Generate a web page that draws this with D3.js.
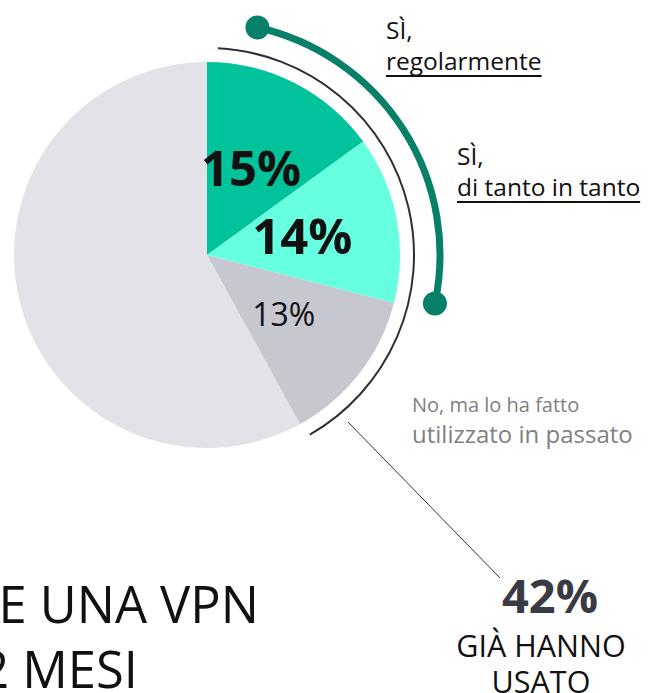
<!DOCTYPE html>
<html>
<head>
<meta charset="utf-8">
<script src="https://cdn.jsdelivr.net/npm/d3@7"></script>
<style>
  body { margin: 0; background: #fff; }
  svg { display: block; font-family: "Open Sans", "Noto Sans", sans-serif; }
</style>
</head>
<body>
<svg id="chart" width="649" height="693"></svg>
<script>
// data
var categories = ["Sì, regolarmente", "Sì, di tanto in tanto", "No, ma lo ha fatto in passato", "Altro"];
var values = [15, 14, 13, 58];
var valueLabels = ["15%", "14%", "13%", ""];
var colors = ["#00c39c", "#66ffdf", "#c7c7cf", "#e2e2e8"];
var totalUsed = "42%";

var svg = d3.select("#chart"),
    cx = 207,
    cy = 255,
    radius = 193;

var g = svg.append("g")
        .attr("transform", "translate(" + cx + "," + cy + ")");

var deg = Math.PI / 180;

var pie = d3.pie().sort(null).value(function(d) { return d; });
var arcs = pie(values);

var arc = d3.arc().innerRadius(0).outerRadius(radius);
var labelArc = d3.arc().innerRadius(97).outerRadius(97);

g.selectAll(".slice")
 .data(arcs)
 .enter().append("path")
 .attr("class", "slice")
 .attr("d", arc)
 .attr("fill", function(d, i) { return colors[i]; });

g.selectAll(".val")
 .data(arcs)
 .enter().append("text")
 .attr("class", "val")
 .attr("transform", function(d) { return "translate(" + labelArc.centroid(d) + ")"; })
 .attr("text-anchor", "middle")
 .attr("dy", "0.36em")
 .attr("font-size", function(d, i) { return i < 2 ? "49px" : "32px"; })
 .attr("font-weight", function(d, i) { return i < 2 ? "bold" : "normal"; })
 .attr("fill", "#111")
 .text(function(d, i) { return valueLabels[i]; });

// thin outer arc around the used share
var usedEnd = arcs[2].endAngle;
g.append("path")
 .attr("d", d3.arc().innerRadius(207).outerRadius(207)({ startAngle: 3 * deg, endAngle: usedEnd - 1 * deg }))
 .attr("fill", "none")
 .attr("stroke", "#2e2e38")
 .attr("stroke-width", 2);

// teal arc for the "Sì" answers
var tealR = 233,
    tealStart = 12.5 * deg,
    tealEnd = 102 * deg;
g.append("path")
 .attr("d", d3.arc().innerRadius(tealR).outerRadius(tealR)({ startAngle: tealStart, endAngle: tealEnd }))
 .attr("fill", "none")
 .attr("stroke", "#077f69")
 .attr("stroke-width", 7);

[tealStart, tealEnd].forEach(function(a) {
    g.append("circle")
     .attr("cx", tealR * Math.sin(a))
     .attr("cy", -tealR * Math.cos(a))
     .attr("r", 12)
     .attr("fill", "#077f69");
});

// category labels
function answerLabel(x, y, first, second) {
    var t = svg.append("g").attr("transform", "translate(" + x + "," + y + ")");
    t.append("text").attr("font-size", "24.5px").attr("fill", "#111").text(first);
    var s = t.append("text").attr("y", 31).attr("font-size", "24.5px").attr("fill", "#111").text(second);
    var w = s.node().getComputedTextLength();
    t.append("line")
     .attr("x1", 0).attr("x2", w)
     .attr("y1", 37).attr("y2", 37)
     .attr("stroke", "#111").attr("stroke-width", 2);
}
answerLabel(386, 39, "SÌ,", "regolarmente");
answerLabel(457, 165, "SÌ,", "di tanto in tanto");

svg.append("text")
   .attr("x", 412).attr("y", 412)
   .attr("font-size", "20px").attr("fill", "#808080")
   .text("No, ma lo ha fatto");
svg.append("text")
   .attr("x", 412).attr("y", 443)
   .attr("font-size", "24px").attr("fill", "#808080")
   .text("utilizzato in passato");

// leader line to the total
svg.append("line")
   .attr("x1", 348).attr("y1", 422)
   .attr("x2", 500).attr("y2", 578)
   .attr("stroke", "#333").attr("stroke-width", 1);

svg.append("text")
   .attr("x", 550).attr("y", 613)
   .attr("text-anchor", "middle")
   .attr("font-size", "47px").attr("font-weight", "bold")
   .attr("fill", "#3a3a44")
   .text(totalUsed);

svg.append("text")
   .attr("x", 541).attr("y", 657)
   .attr("text-anchor", "middle")
   .attr("font-size", "30.5px").attr("fill", "#111")
   .text("GIÀ HANNO");
svg.append("text")
   .attr("x", 541).attr("y", 693)
   .attr("text-anchor", "middle")
   .attr("font-size", "30.5px").attr("fill", "#111")
   .text("USATO");

// title (cut by the left edge)
svg.append("text")
   .attr("transform", "translate(259,623) scale(0.975,1)")
   .attr("text-anchor", "end")
   .attr("font-size", "52px").attr("fill", "#111")
   .text("TE UNA VPN");
svg.append("text")
   .attr("transform", "translate(138,688) scale(0.975,1)")
   .attr("text-anchor", "end")
   .attr("font-size", "52px").attr("fill", "#111")
   .text("2 MESI");
</script>
</body>
</html>
